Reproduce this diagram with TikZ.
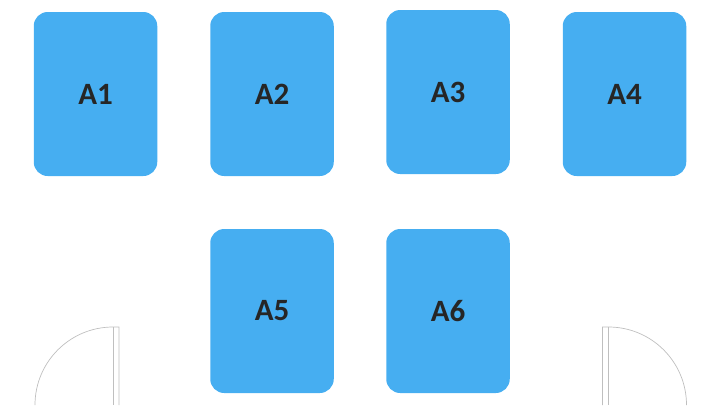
\documentclass[tikz,border=0pt]{standalone}
\usepackage{fontspec}
\setmainfont{Carlito}
\usepackage{tikz}
\definecolor{seatblue}{HTML}{46AEF1}
\definecolor{seattext}{HTML}{262626}
\definecolor{doorgray}{HTML}{BFBFBF}

\begin{document}
\begin{tikzpicture}[x=1pt, y=-1pt,
                    every node/.style={inner sep=0pt, outer sep=0pt},
                    seat/.style={rectangle, rounded corners=14pt, fill=seatblue, text=seattext,
                                 minimum width=123.5pt, minimum height=164pt,
                                 font=\fontsize{31}{31}\selectfont\bfseries},
                    door/.style={draw=doorgray, line width=0.7pt}]

\useasboundingbox (0,0) rectangle (720,405);

\node[seat] (A1) at (95.5,94)  {A1};
\node[seat] (A2) at (272,94)   {A2};
\node[seat] (A3) at (448,92)   {A3};
\node[seat] (A4) at (624.5,94) {A4};
\node[seat] (A5) at (272,311)  {A5};
\node[seat] (A6) at (448,311)  {A6};

% doors
\draw[door] (35,405) arc[start angle=180, end angle=90, x radius=78, y radius=-78] -- (119,327) -- (119,405);
\draw[door] (113,327) -- (113,405);
\draw[door] (686.5,405) arc[start angle=0, end angle=90, x radius=78, y radius=-78] -- (602.5,327) -- (602.5,405);
\draw[door] (608.5,327) -- (608.5,405);
\end{tikzpicture}
\end{document}
